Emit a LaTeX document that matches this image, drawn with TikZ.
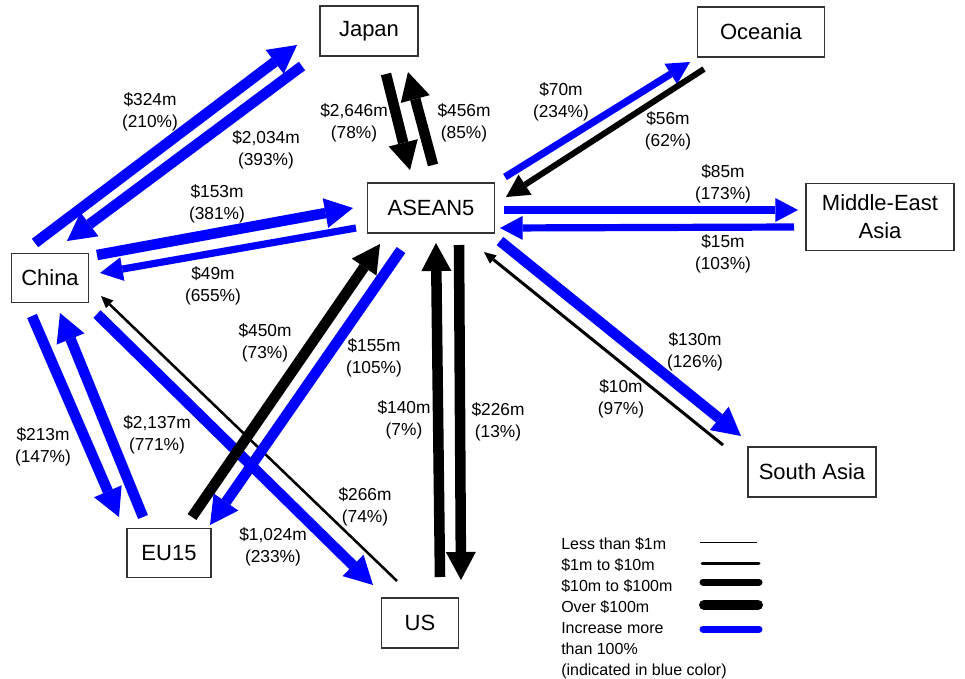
\documentclass[tikz,border=0pt]{standalone}
\usepackage{fontspec}
\setmainfont{Liberation Sans}
\usetikzlibrary{arrows.meta}

\definecolor{flowblue}{RGB}{0,0,255}

\tikzset{
  region/.style={draw=black!80, line width=0.8pt, minimum height=37.5pt, inner sep=2pt,
    align=center, font=\fontsize{16.5}{21}\selectfont},
  lbl/.style={align=center, inner sep=0pt, font=\fontsize{13}{16.5}\selectfont},
  keytext/.style={anchor=base west, inner sep=0pt, font=\fontsize{12}{14}\selectfont},
  big/.style={line width=7.9pt, -{Triangle[length=21pt,width=22.5pt,line width=0pt]}},
  mid/.style={line width=5.4pt, -{Triangle[length=17pt,width=18pt,line width=0pt]}},
  small/.style={line width=2.25pt, -{Triangle[length=9pt,width=8pt,line width=0pt]}},
  tiny/.style={line width=1.9pt, -{Triangle[length=9pt,width=8pt,line width=0pt]}}
}

\begin{document}
\begin{tikzpicture}[x=0.75pt, y=-0.75pt]
\useasboundingbox (0,0) rectangle (965,679);

% regions
\node[region, minimum width=73.5pt] (japan) at (369,31) {Japan};
\node[region, minimum width=95.25pt] (oceania) at (761,32) {Oceania};
\node[region, minimum width=95.25pt] (asean) at (431,208) {ASEAN5};
\node[region, minimum width=111pt, minimum height=50.25pt] (mideast) at (880,217) {Middle-East\\Asia};
\node[region, minimum width=57.75pt, minimum height=36.75pt] (china) at (50,278) {China};
\node[region, minimum width=63pt, minimum height=36.75pt] (eu) at (169,553) {EU15};
\node[region, minimum width=57.75pt] (us) at (420,623) {US};
\node[region, minimum width=96pt] (sasia) at (812,472) {South Asia};

% flows around China
\draw[big, flowblue] ([shift={(-15,-35)}]china.center) -- ([shift={(-72,14)}]japan.center);
\draw[big, flowblue] ([shift={(-67,35)}]japan.center) -- ([shift={(17,-37)}]china.center);
\draw[big, flowblue] ([shift={(47,-23)}]china.center) -- ([shift={(-78,0)}]asean.center);
\draw[mid, flowblue] ([shift={(-75,20)}]asean.center) -- ([shift={(50,-5)}]china.center);
\draw[big, flowblue] ([shift={(-18,38)}]china.center) -- ([shift={(-50,-36)}]eu.center);
\draw[big, flowblue] ([shift={(-26,-36)}]eu.center) -- ([shift={(10,35)}]china.center);
\draw[big, flowblue] ([shift={(47,36)}]china.center) -- ([shift={(-47,-38)}]us.center);
\draw[tiny] ([shift={(-23,-42)}]us.center) -- ([shift={(51,18)}]china.center);

% flows around ASEAN5
\draw[big] ([shift={(17,43)}]japan.center) -- ([shift={(-21,-38)}]asean.center);
\draw[big] ([shift={(2,-43)}]asean.center) -- ([shift={(39,41)}]japan.center);
\draw[big] ([shift={(23,-36)}]eu.center) -- ([shift={(-51,36)}]asean.center);
\draw[big, flowblue] ([shift={(-30,42)}]asean.center) -- ([shift={(41,-28)}]eu.center);
\draw[big] ([shift={(20,-46)}]us.center) -- ([shift={(5,35)}]asean.center);
\draw[big] ([shift={(28,37)}]asean.center) -- ([shift={(41,-43)}]us.center);
\draw[mid, flowblue] ([shift={(74,-31)}]asean.center) -- ([shift={(-71,30)}]oceania.center);
\draw[line width=4.5pt, -{Triangle[length=17pt,width=18pt,line width=0pt]}]
  ([shift={(-57,37)}]oceania.center) -- ([shift={(75,-11)}]asean.center);
\draw[mid, flowblue] ([shift={(73,2)}]asean.center) -- ([shift={(-82,-7)}]mideast.center);
\draw[mid, flowblue] ([shift={(-86,10)}]mideast.center) -- ([shift={(69,20)}]asean.center);
\draw[big, flowblue] ([shift={(69,33)}]asean.center) -- ([shift={(-71,-36)}]sasia.center);
\draw[small] ([shift={(-89,-27)}]sasia.center) -- ([shift={(53,44)}]asean.center);

% values
\node[lbl] (l324) at (150,112) {\$324m\\(210\%)};
\node[lbl] (l2034) at (266,150) {\$2,034m\\(393\%)};
\node[lbl] (l2646) at (354,123) {\$2,646m\\(78\%)};
\node[lbl] (l456) at (464,123) {\$456m\\(85\%)};
\node[lbl] (l153) at (217,204) {\$153m\\(381\%)};
\node[lbl] (l49) at (213,286) {\$49m\\(655\%)};
\node[lbl] (l450) at (265,343) {\$450m\\(73\%)};
\node[lbl] (l155) at (374,358) {\$155m\\(105\%)};
\node[lbl] (l140) at (404,420) {\$140m\\(7\%)};
\node[lbl] (l226) at (498,422) {\$226m\\(13\%)};
\node[lbl] (l213) at (43,447) {\$213m\\(147\%)};
\node[lbl] (l2137) at (157,435) {\$2,137m\\(771\%)};
\node[lbl] (l266) at (365,507) {\$266m\\(74\%)};
\node[lbl] (l1024) at (273,547) {\$1,024m\\(233\%)};
\node[lbl] (l70) at (561,102) {\$70m\\(234\%)};
\node[lbl] (l56) at (668,131) {\$56m\\(62\%)};
\node[lbl] (l85) at (723,184) {\$85m\\(173\%)};
\node[lbl] (l15) at (723,254) {\$15m\\(103\%)};
\node[lbl] (l130) at (695,352) {\$130m\\(126\%)};
\node[lbl] (l10) at (621,399) {\$10m\\(97\%)};

% key
\node[keytext] (k1) at (561,549) {Less than \$1m};
\node[keytext] (k2) at (561,570) {\$1m to \$10m};
\node[keytext] (k3) at (561,591) {\$10m to \$100m};
\node[keytext] (k4) at (561,612) {Over \$100m};
\node[keytext] (k5) at (561,633) {Increase more};
\node[keytext] (k6) at (561,654) {than 100\%};
\node[keytext] (k7) at (561,675) {(indicated in blue color)};
\draw[line width=0.75pt] (700,542) -- (757,542);
\draw[line width=2.25pt, line cap=round] (702,563) -- (759,563);
\draw[line width=5.25pt, line cap=round] (703,582) -- (759,582);
\draw[line width=7.5pt, line cap=round] (704,605) -- (758,605);
\draw[flowblue, line width=5.25pt, line cap=round] (703,629) -- (759,629);
\end{tikzpicture}
\end{document}
